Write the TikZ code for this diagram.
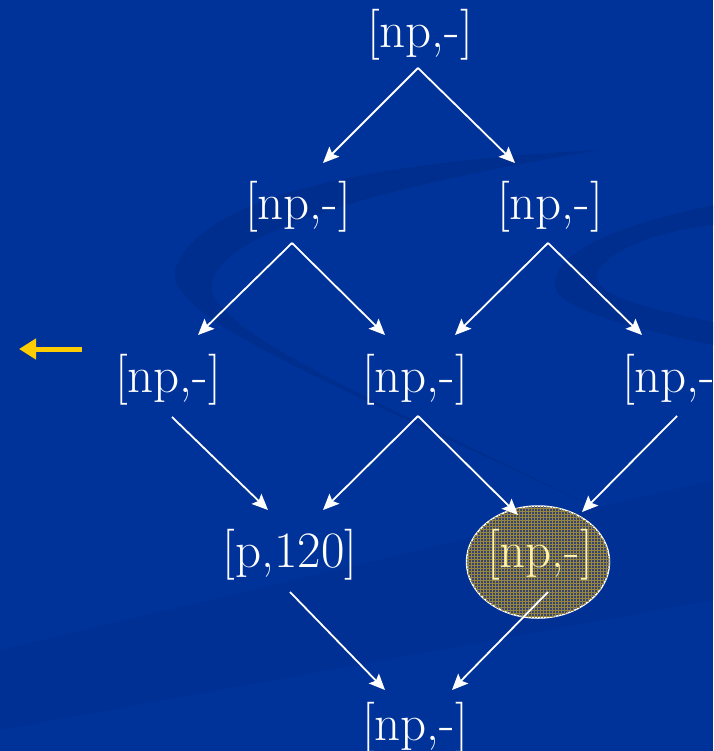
\documentclass[tikz,border=0pt]{standalone}
\usepackage{fontspec}
\usetikzlibrary{arrows.meta,calc,shapes.geometric,patterns}

\definecolor{slideblue}{RGB}{0,51,153}
\definecolor{swoosh}{RGB}{0,43,136}
\definecolor{argold}{RGB}{255,204,0}
\definecolor{meshline}{RGB}{150,135,62}
\definecolor{hilite}{RGB}{255,240,170}
\definecolor{meshbg}{RGB}{58,66,110}

\begin{document}
\begin{tikzpicture}[
  x=1pt, y=-1pt,
  font=\fontsize{51}{56}\selectfont,
  >={Stealth[length=16pt,width=14pt,inset=3pt]},
  state/.style={text=white, inner sep=0pt},
  edge/.style={->, draw=white, line width=1.8pt},
  chosen/.style={ellipse, draw=white, line width=1.5pt, fill=meshbg,
    postaction={pattern=grid, pattern color=meshline},
    minimum width=143pt, minimum height=112pt, inner sep=0pt},
]

% Slide background
\fill[slideblue] (0,0) rectangle (713,751);
\clip (0,0) rectangle (713,751);
\fill[swoosh, opacity=0.6] (600,150) .. controls (400,160) and (200,190) .. (175,270)
  .. controls (165,320) and (350,390) .. (620,520)
  .. controls (400,410) and (200,330) .. (212,282)
  .. controls (225,225) and (420,180) .. (600,150) -- cycle;
\fill[swoosh, opacity=0.6] (713,205) .. controls (620,225) and (555,250) .. (555,285)
  .. controls (555,310) and (640,330) .. (713,345) -- (713,322)
  .. controls (630,305) and (590,292) .. (598,272)
  .. controls (612,245) and (670,230) .. (713,225) -- cycle;
\fill[swoosh, opacity=0.35] (0,650) -- (713,480) -- (713,600) -- (0,730) -- cycle;

% Lattice nodes
\node[state]  (n0)  at (420,35)  {[np,-]};
\node[state]  (n1l) at (298,207) {[np,-]};
\node[state]  (n1r) at (550,207) {[np,-]};
\node[state]  (n2l) at (168,380) {[np,-]};
\node[state]  (n2m) at (415,380) {[np,-]};
\node[state]  (n2r) at (675,380) {[np,-]};
\node[state]  (n3l) at (290,555) {[p,120]};
\node[chosen] (n3r) at (538,562) {};
\node[state, text=hilite] (n3rtext) at (540,555) {[np,-]};
\node[state]  (n4)  at (415,728) {[np,-]};

% Edges, from below a parent to above a child
\draw[edge] ($(n0)+(-2,33)$)  -- ($(n1l)+(25,-44)$);
\draw[edge] ($(n0)+(-2,33)$)  -- ($(n1r)+(-35,-44)$);
\draw[edge] ($(n1l)+(-6,36)$) -- ($(n2l)+(30,-45)$);
\draw[edge] ($(n1l)+(-6,36)$) -- ($(n2m)+(-30,-45)$);
\draw[edge] ($(n1r)+(-2,36)$) -- ($(n2m)+(40,-45)$);
\draw[edge] ($(n1r)+(-2,36)$) -- ($(n2r)+(-33,-45)$);
\draw[edge] ($(n2l)+(4,37)$)  -- ($(n3l)+(-22,-45)$);
\draw[edge] ($(n2m)+(3,36)$)  -- ($(n3l)+(33,-45)$);
\draw[edge] ($(n2m)+(3,36)$)  -- ($(n3r)+(-20,-47)$);
\draw[edge] ($(n2r)+(2,36)$)  -- ($(n3r)+(44,-50)$);
\draw[edge] ($(n3l)+(0,37)$)  -- ($(n4)+(-30,-38)$);
\draw[edge] ($(n3r)+(10,30)$) -- ($(n4)+(37,-38)$);

% Back arrow on the left
\coordinate (backtail) at (82,349);
\coordinate (backtip)  at (19,349);
\draw[argold, line width=5pt, -{Triangle[length=17pt,width=20pt]}] (backtail) -- (backtip);

\end{tikzpicture}
\end{document}
